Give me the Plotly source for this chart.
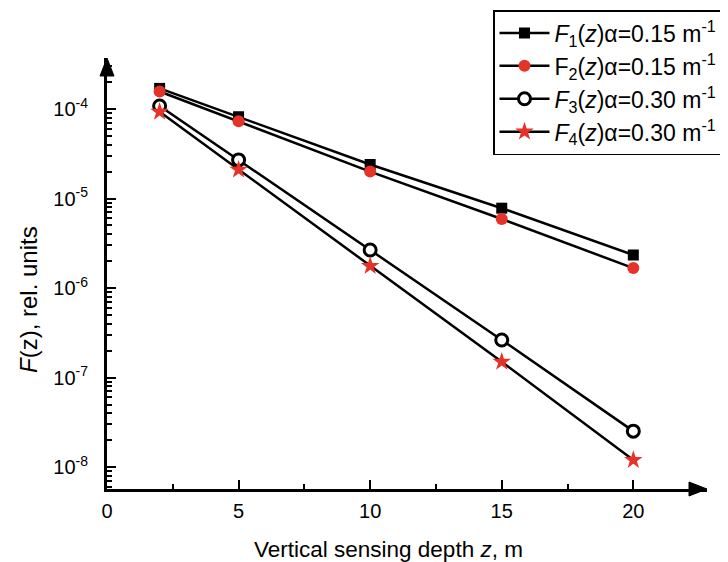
import plotly.graph_objects as go

# ---- data ----
depth = [2, 5, 10, 15, 20]
F1 = [1.70e-4, 8.2e-5, 2.4e-5, 7.8e-6, 2.34e-6]
F2 = [1.57e-4, 7.3e-5, 2.0e-5, 5.9e-6, 1.67e-6]
F3 = [1.08e-4, 2.7e-5, 2.66e-6, 2.63e-7, 2.52e-8]
F4 = [9.3e-5, 2.1e-5, 1.76e-6, 1.5e-7, 1.2e-8]

names = [
    "<i>F</i><sub>1</sub>(<i>z</i>)α=0.15 m<sup>-1</sup>",
    "F<sub>2</sub>(<i>z</i>)α=0.15 m<sup>-1</sup>",
    "<i>F</i><sub>3</sub>(<i>z</i>)α=0.30 m<sup>-1</sup>",
    "<i>F</i><sub>4</sub>(<i>z</i>)α=0.30 m<sup>-1</sup>",
]

x_ticks = [0, 5, 10, 15, 20]
x_minor = [2.5, 7.5, 12.5, 17.5]
y_ticks = [1e-8, 1e-7, 1e-6, 1e-5, 1e-4]
y_ticktext = ["10<sup>-8</sup>", "10<sup>-7</sup>", "10<sup>-6</sup>", "10<sup>-5</sup>", "10<sup>-4</sup>"]
y_minor = [m * 10.0 ** e for e in range(-9, -3) for m in range(2, 10)]

RED = "#e6332a"
FONT = "Arial, Liberation Sans, sans-serif"

styles = [
    dict(symbol="square", size=11, color="black", line=dict(width=0)),
    dict(symbol="circle", size=12, color=RED, line=dict(width=0)),
    dict(symbol="circle", size=12, color="white", line=dict(width=3, color="black")),
    dict(symbol="star", size=14, color=RED, line=dict(width=0)),
]

fig = go.Figure()
for i, (ys, nm, st) in enumerate(zip([F1, F2, F3, F4], names, styles)):
    fig.add_trace(go.Scatter(
        x=depth, y=ys, name=nm, mode="lines+markers",
        line=dict(color="black", width=2.5),
        marker=st, legendgroup=f"g{i}",
    ))

# page body has an 8 px margin, so the figure is placed at (8, 8) in the window
OFF = 8
W, H = 728 - OFF, 562 - OFF
L, T = 107 - OFF, 58 - OFF
R = W - (707 - OFF)
B = H - (489 - OFF)

fig.update_layout(
    width=W, height=H,
    margin=dict(l=L, r=R, t=T, b=B, autoexpand=False),
    paper_bgcolor="white", plot_bgcolor="white",
    font=dict(family=FONT, size=20, color="black"),
    showlegend=True,
    legend=dict(
        xref="container", yref="container",
        x=(493 - OFF) / W, y=1 - (10 - OFF) / H, xanchor="left", yanchor="top",
        bgcolor="white", bordercolor="black", borderwidth=1.5,
        font=dict(family=FONT, size=23, color="black"),
        traceorder="grouped", tracegroupgap=0,
        itemwidth=50,
    ),
    xaxis=dict(
        range=[0, 22.8], showgrid=False, zeroline=False,
        showline=True, linecolor="black", linewidth=3,
        tickmode="array", tickvals=x_ticks, ticktext=[str(v) for v in x_ticks],
        ticks="inside", ticklen=9, tickwidth=2, tickcolor="black",
        ticklabelstandoff=2,
        minor=dict(tickmode="array", tickvals=x_minor, ticks="inside", ticklen=5,
                   tickwidth=2, tickcolor="black", showgrid=False),
        tickfont=dict(family=FONT, size=20),
    ),
    yaxis=dict(
        type="log", range=[-8.245, -3.43], showgrid=False, zeroline=False,
        showline=True, linecolor="black", linewidth=3,
        tickmode="array", tickvals=y_ticks, ticktext=y_ticktext,
        ticks="inside", ticklen=9, tickwidth=2, tickcolor="black",
        ticklabelstandoff=12,
        minor=dict(tickmode="array", tickvals=y_minor, ticks="inside", ticklen=5,
                   tickwidth=1.5, tickcolor="black", showgrid=False),
        tickfont=dict(family=FONT, size=20),
    ),
)

pw, ph = W - L - R, H - T - B
al, aw = 18, 7
# arrow heads at the axis ends
fig.add_shape(type="path", xref="paper", yref="paper",
              path=f"M 1 0 L {1 - al / pw} {aw / ph} L {1 - al / pw} {-aw / ph} Z",
              fillcolor="black", line=dict(color="black", width=1))
fig.add_shape(type="path", xref="paper", yref="paper",
              path=f"M 0 1 L {aw / pw} {1 - al / ph} L {-aw / pw} {1 - al / ph} Z",
              fillcolor="black", line=dict(color="black", width=1))

# axis titles (reference pixel positions converted to paper coords)
def px_to_paper(xp, yp):
    return ((xp - OFF) - L) / pw, (H - B - (yp - OFF)) / ph

xt, yt = px_to_paper(388, 549)
fig.add_annotation(text="Vertical sensing depth <i>z</i>, m", xref="paper", yref="paper",
                   x=xt, y=yt, showarrow=False,
                   xanchor="center", yanchor="middle", font=dict(family=FONT, size=22.5))
xt, yt = px_to_paper(28, 300)
fig.add_annotation(text="<i>F</i>(z), rel. units", xref="paper", yref="paper",
                   x=xt, y=yt, showarrow=False, textangle=-90,
                   xanchor="center", yanchor="middle", font=dict(family=FONT, size=24))

fig.write_html("out.html")
